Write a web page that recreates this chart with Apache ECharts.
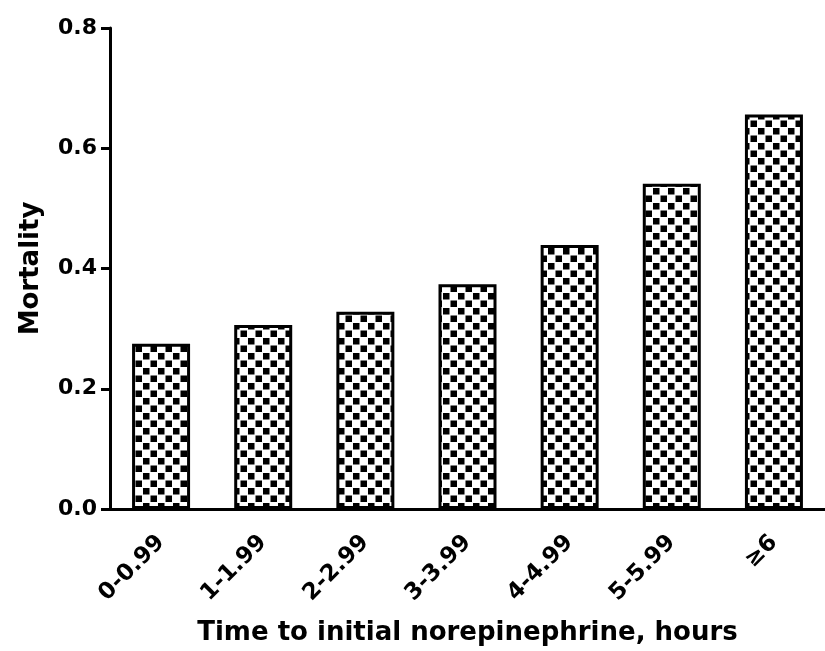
<!DOCTYPE html>
<html>
<head>
<meta charset="utf-8">
<script src="https://cdn.jsdelivr.net/npm/echarts@6/dist/echarts.min.js"></script>
<style>
html,body{margin:0;padding:0;background:#fff;}
#chart{width:825px;height:651px;}
</style>
</head>
<body>
<div id="chart"></div>
<script>
var categories = ['0-0.99', '1-1.99', '2-2.99', '3-3.99', '4-4.99', '5-5.99', '\u22656'];
var mortality = [0.275, 0.306, 0.328, 0.374, 0.439, 0.541, 0.656];
var yTickLabels = ['0.0', '0.2', '0.4', '0.6', '0.8'];
var xTitle = 'Time to initial norepinephrine, hours';
var yTitle = 'Mortality';

function makePattern() {
  var c = document.createElement('canvas');
  c.width = 15; c.height = 15;
  var g = c.getContext('2d');
  g.fillStyle = '#ffffff';
  g.fillRect(0, 0, 15, 15);
  g.fillStyle = '#000000';
  g.fillRect(0.5, 0.5, 6.5, 6.5);
  g.fillRect(8, 8, 6.5, 6.5);
  return c;
}

var font = 'DejaVu Sans';
var chart = echarts.init(document.getElementById('chart'), null, {renderer: 'canvas'});
chart.setOption({
  animation: false,
  backgroundColor: '#ffffff',
  grid: {left: 110, top: 28, width: 721, height: 481, containLabel: false},
  xAxis: {
    type: 'category',
    data: categories,
    name: xTitle,
    nameLocation: 'middle',
    nameGap: 111,
    nameTextStyle: {fontFamily: font, fontWeight: 'bold', fontSize: 26, color: '#000'},
    axisLine: {lineStyle: {color: '#000', width: 3}},
    axisTick: {alignWithLabel: true, length: 9, lineStyle: {color: '#000', width: 3}},
    axisLabel: {rotate: 45, margin: 30, fontFamily: font, fontWeight: 'bold', fontSize: 23, color: '#000'}
  },
  yAxis: {
    type: 'value',
    min: 0, max: 0.8, interval: 0.2,
    name: yTitle,
    nameLocation: 'middle',
    nameGap: 66,
    nameTextStyle: {fontFamily: font, fontWeight: 'bold', fontSize: 26, color: '#000'},
    splitLine: {show: false},
    axisLine: {show: true, lineStyle: {color: '#000', width: 3}},
    axisTick: {show: true, length: 9, lineStyle: {color: '#000', width: 3}},
    axisLabel: {
      margin: 13, fontFamily: font, fontWeight: 'bold', fontSize: 22, color: '#000',
      formatter: function (v) { return yTickLabels[Math.round(v / 0.2)]; }
    }
  },
  series: [{
    type: 'bar',
    data: mortality,
    barWidth: 58,
    itemStyle: {
      color: {image: makePattern(), repeat: 'repeat'},
      borderColor: '#000',
      borderWidth: 3
    }
  }]
});
</script>
</body>
</html>
